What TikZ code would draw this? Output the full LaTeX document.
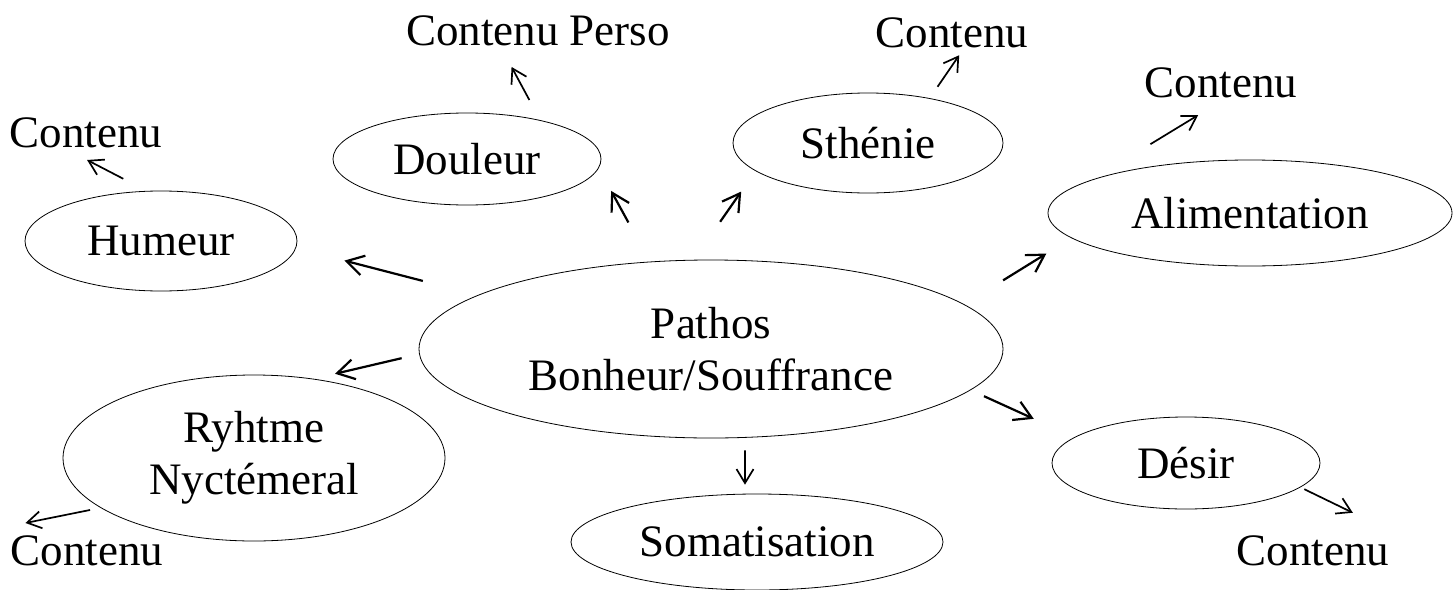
\documentclass[tikz,border=0pt]{standalone}
\usepackage{fontspec}
\setmainfont{Liberation Serif}
\usetikzlibrary{shapes.geometric,arrows.meta}
\begin{document}
\begin{tikzpicture}[
  x=1pt, y=-1pt,
  bubble/.style={ellipse, draw, line width=0.8pt, inner sep=0pt, align=center},
  txt/.style={inner sep=0pt, anchor=base},
  link/.style={-{Straight Barb[length=17pt,width=20pt]}, line width=2.2pt},
  sublink/.style={-{Straight Barb[length=14pt,width=17pt]}, line width=1.7pt},
  font=\fontsize{45}{52}\selectfont
]
\useasboundingbox (0,0) rectangle (1456,589);
\clip (0,0) rectangle (1456,589);

\node[bubble, minimum width=584pt, minimum height=178pt] (pathos) at (711,349) {Pathos\\Bonheur/Souffrance};
\node[bubble, minimum width=272pt, minimum height=100pt] (humeur) at (161,241) {Humeur};
\node[bubble, minimum width=268pt, minimum height=92pt] (douleur) at (467,159) {Douleur};
\node[bubble, minimum width=270pt, minimum height=100pt] (sthenie) at (868,143) {Sthénie};
\node[bubble, minimum width=404pt, minimum height=106pt] (alim) at (1250,213) {Alimentation};
\node[bubble, minimum width=382pt, minimum height=166pt] (rythme) at (254,458) {Ryhtme\\Nyctémeral};
\node[bubble, minimum width=372pt, minimum height=96pt] (somat) at (757,542) {Somatisation};
\node[bubble, minimum width=268pt, minimum height=92pt] (desir) at (1186,463) {Désir};

\node[txt] (c-humeur) at (86,147) {Contenu};
\node[txt] (c-douleur) at (538,45) {Contenu Perso};
\node[txt] (c-sthenie) at (952,47) {Contenu};
\node[txt] (c-alim) at (1221,97) {Contenu};
\node[txt] (c-rythme) at (87,565) {Contenu};
\node[txt] (c-desir) at (1313,565) {Contenu};

\draw[link, shorten <=56.6pt, shorten >=49.9pt] (pathos.167.8) -- (humeur.-3.9);
\draw[link, shorten <=17.9pt, shorten >=21.9pt] (pathos.181) -- (rythme.53.4);
\draw[link, shorten <=44.6pt, shorten >=25.9pt] (pathos.125.8) -- (douleur.-4.6);
\draw[link, shorten <=46.3pt, shorten >=25pt] (pathos.101.8) -- (sthenie.194.7);
\draw[link, shorten <=45.6pt, shorten >=29.4pt] (pathos.10.4) -- (alim.188.7);
\draw[link, shorten <=14.7pt, shorten >=44.5pt] (pathos.-9.2) -- (desir.167.9);
\draw[sublink, shorten <=12.6pt, shorten >=9pt] (pathos.-69) -- (somat.104);

\draw[sublink, shorten <=26.3pt, shorten >=26.8pt] (humeur.106.5) -- (c-humeur.214.3);
\draw[sublink, shorten <=22.8pt, shorten >=24.2pt] (douleur.28.1) -- (c-douleur.202.7);
\draw[sublink, shorten <=13.8pt, shorten >=9.2pt] (sthenie.36.7) -- (c-sthenie.-51.3);
\draw[sublink, shorten <=67.9pt, shorten >=33.6pt] (alim.168.6) -- (c-alim.-69.8);
\draw[sublink, shorten <=10.7pt, shorten >=15.2pt] (rythme.198.8) -- ([yshift=9pt]c-rythme.north west);
\draw[sublink, shorten <=4.3pt, shorten >=40.7pt] (desir.-12.7) -- ([yshift=4.5pt]c-desir.north east);
\end{tikzpicture}
\end{document}
